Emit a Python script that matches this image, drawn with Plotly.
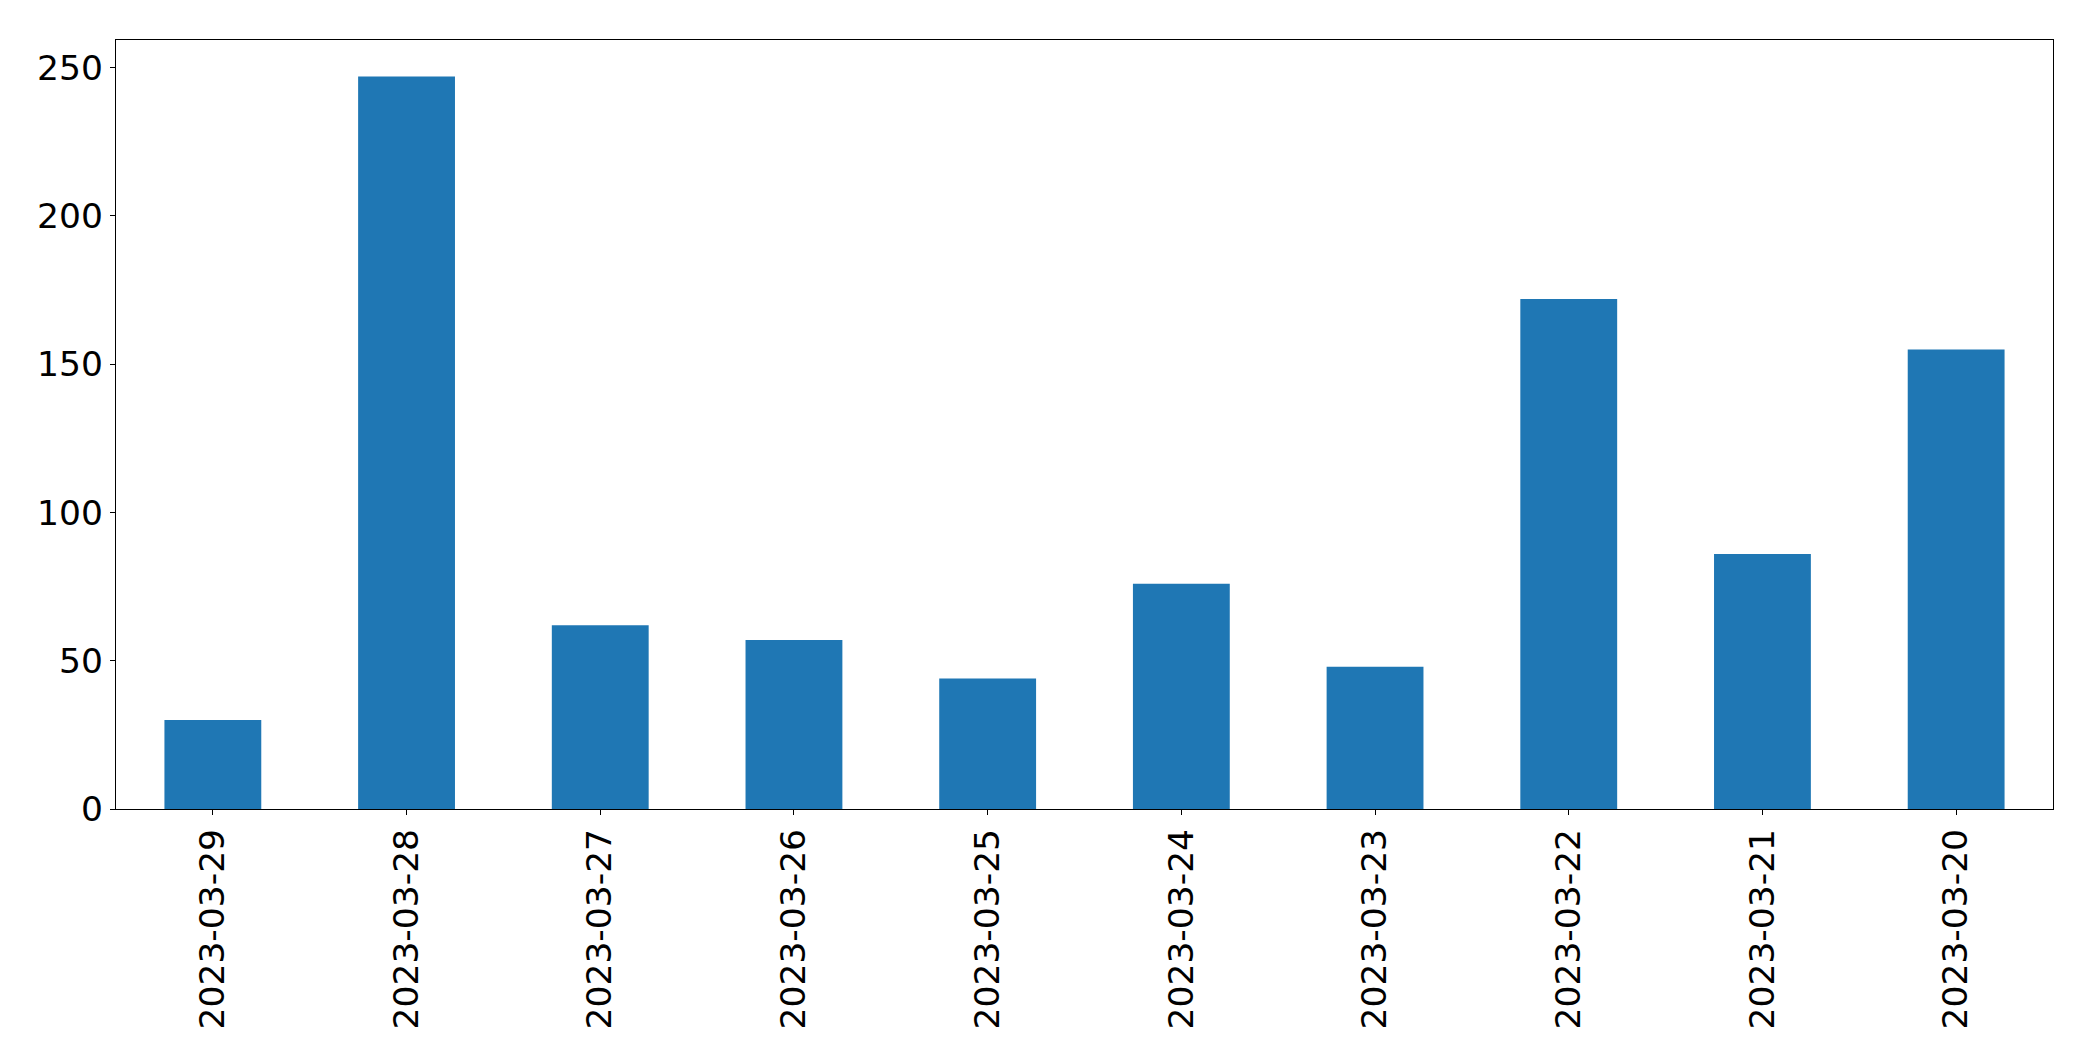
import plotly.graph_objects as go

dates = ["2023-03-29", "2023-03-28", "2023-03-27", "2023-03-26", "2023-03-25",
         "2023-03-24", "2023-03-23", "2023-03-22", "2023-03-21", "2023-03-20"]
counts = [30, 247, 62, 57, 44, 76, 48, 172, 86, 155]
y_ticks = [0, 50, 100, 150, 200, 250]

fig = go.Figure(go.Bar(x=dates, y=counts, marker=dict(color="#1f77b4", line=dict(width=0))))

font = dict(family="DejaVu Sans", size=34.5, color="black")
fig.update_layout(
    width=2093, height=1061,
    margin=dict(l=116, r=40, t=40, b=252),
    paper_bgcolor="white", plot_bgcolor="white",
    bargap=0.5, showlegend=False, font=font,
)
fig.update_xaxes(
    type="category", tickangle=-90, ticks="outside", ticklen=5, tickwidth=1.3,
    tickcolor="black", showline=True, linecolor="black", linewidth=1.3, mirror=True,
    showgrid=False, tickfont=font, ticklabelstandoff=0,
)
fig.update_yaxes(
    range=[0, 259.35], tickvals=y_ticks, ticks="outside", ticklen=5, tickwidth=1.3,
    tickcolor="black", showline=True, linecolor="black", linewidth=1.3, mirror=True,
    showgrid=False, zeroline=False, tickfont=font, ticklabelstandoff=0,
)
fig.write_html("out.html")
